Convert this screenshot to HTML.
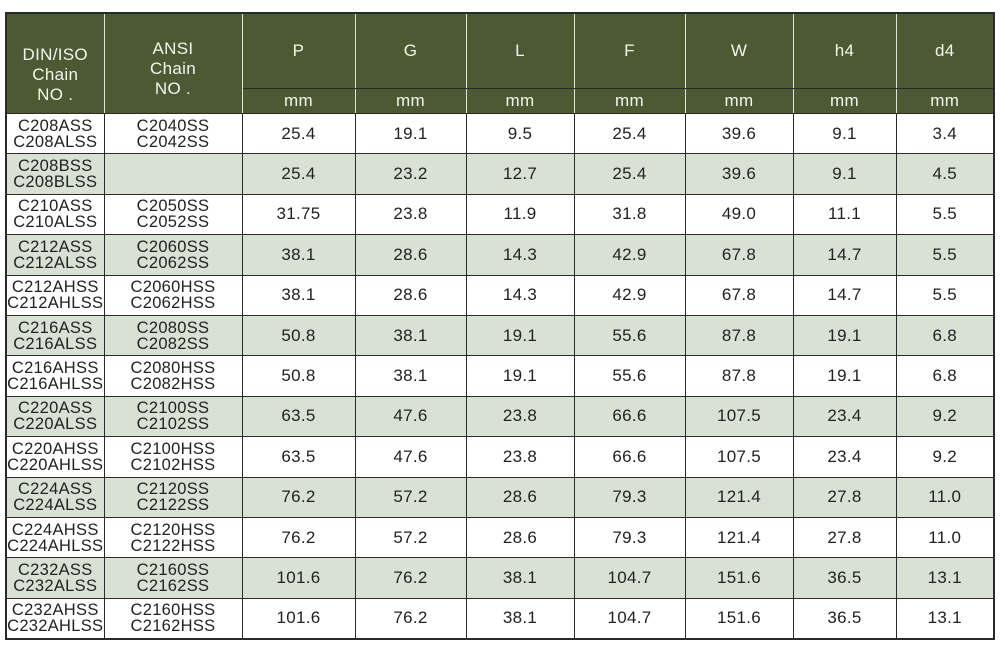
<!DOCTYPE html>
<html><head><style>
body{margin:0;width:1000px;height:648px;background:#fff;overflow:hidden;font-family:"Liberation Sans",sans-serif;}
table{position:absolute;left:5px;top:12px;border-collapse:collapse;table-layout:fixed;width:988px;border:2px solid #2a2a2a}
td{border:1.5px solid #2a2a2a;text-align:center;color:#222;font-size:17px;padding:0;height:39.4px;letter-spacing:0.3px}
td.n{line-height:16px;font-size:16.5px}
tr.h td{background:#4b5a33;color:#f4f4ee;border-color:#2a2a2a;border-left-color:#dfe3d6;border-right-color:#dfe3d6;height:68px;font-size:17px;line-height:20px}
tr.h2 td{background:#4b5a33;color:#f4f4ee;height:22px;border-top:1.5px solid #dfe3d6;border-left-color:#dfe3d6;border-right-color:#dfe3d6}
tr.h td:first-child{border-left-color:#2a2a2a}
tr.h td:last-child,tr.h2 td:last-child{border-right-color:#2a2a2a}
tr.g td{background:#d8e1d4}
</style></head><body>
<table>
<colgroup><col style="width:98px"><col style="width:138px"><col style="width:113px"><col style="width:111px"><col style="width:108px"><col style="width:111px"><col style="width:108px"><col style="width:103px"><col style="width:98px"></colgroup>
<tr class="h"><td rowspan="2" style="border-bottom:1.5px solid #2a2a2a;vertical-align:top;padding-top:31px">DIN/ISO<br>Chain<br>NO .</td><td rowspan="2" style="border-bottom:1.5px solid #2a2a2a;vertical-align:top;padding-top:25px">ANSI<br>Chain<br>NO .</td><td>P</td><td>G</td><td>L</td><td>F</td><td>W</td><td>h4</td><td>d4</td></tr>
<tr class="h2"><td>mm</td><td>mm</td><td>mm</td><td>mm</td><td>mm</td><td>mm</td><td>mm</td></tr>
<tr><td class="n">C208ASS<br>C208ALSS</td><td class="n">C2040SS<br>C2042SS</td><td>25.4</td><td>19.1</td><td>9.5</td><td>25.4</td><td>39.6</td><td>9.1</td><td>3.4</td></tr>
<tr class="g"><td class="n">C208BSS<br>C208BLSS</td><td class="n"></td><td>25.4</td><td>23.2</td><td>12.7</td><td>25.4</td><td>39.6</td><td>9.1</td><td>4.5</td></tr>
<tr><td class="n">C210ASS<br>C210ALSS</td><td class="n">C2050SS<br>C2052SS</td><td>31.75</td><td>23.8</td><td>11.9</td><td>31.8</td><td>49.0</td><td>11.1</td><td>5.5</td></tr>
<tr class="g"><td class="n">C212ASS<br>C212ALSS</td><td class="n">C2060SS<br>C2062SS</td><td>38.1</td><td>28.6</td><td>14.3</td><td>42.9</td><td>67.8</td><td>14.7</td><td>5.5</td></tr>
<tr><td class="n">C212AHSS<br>C212AHLSS</td><td class="n">C2060HSS<br>C2062HSS</td><td>38.1</td><td>28.6</td><td>14.3</td><td>42.9</td><td>67.8</td><td>14.7</td><td>5.5</td></tr>
<tr class="g"><td class="n">C216ASS<br>C216ALSS</td><td class="n">C2080SS<br>C2082SS</td><td>50.8</td><td>38.1</td><td>19.1</td><td>55.6</td><td>87.8</td><td>19.1</td><td>6.8</td></tr>
<tr><td class="n">C216AHSS<br>C216AHLSS</td><td class="n">C2080HSS<br>C2082HSS</td><td>50.8</td><td>38.1</td><td>19.1</td><td>55.6</td><td>87.8</td><td>19.1</td><td>6.8</td></tr>
<tr class="g"><td class="n">C220ASS<br>C220ALSS</td><td class="n">C2100SS<br>C2102SS</td><td>63.5</td><td>47.6</td><td>23.8</td><td>66.6</td><td>107.5</td><td>23.4</td><td>9.2</td></tr>
<tr><td class="n">C220AHSS<br>C220AHLSS</td><td class="n">C2100HSS<br>C2102HSS</td><td>63.5</td><td>47.6</td><td>23.8</td><td>66.6</td><td>107.5</td><td>23.4</td><td>9.2</td></tr>
<tr class="g"><td class="n">C224ASS<br>C224ALSS</td><td class="n">C2120SS<br>C2122SS</td><td>76.2</td><td>57.2</td><td>28.6</td><td>79.3</td><td>121.4</td><td>27.8</td><td>11.0</td></tr>
<tr><td class="n">C224AHSS<br>C224AHLSS</td><td class="n">C2120HSS<br>C2122HSS</td><td>76.2</td><td>57.2</td><td>28.6</td><td>79.3</td><td>121.4</td><td>27.8</td><td>11.0</td></tr>
<tr class="g"><td class="n">C232ASS<br>C232ALSS</td><td class="n">C2160SS<br>C2162SS</td><td>101.6</td><td>76.2</td><td>38.1</td><td>104.7</td><td>151.6</td><td>36.5</td><td>13.1</td></tr>
<tr><td class="n">C232AHSS<br>C232AHLSS</td><td class="n">C2160HSS<br>C2162HSS</td><td>101.6</td><td>76.2</td><td>38.1</td><td>104.7</td><td>151.6</td><td>36.5</td><td>13.1</td></tr>
</table>
</body></html>
